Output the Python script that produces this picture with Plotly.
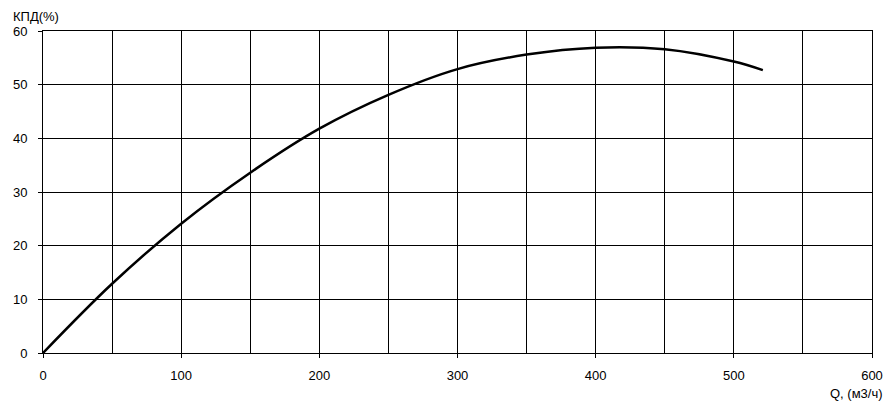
import plotly.graph_objects as go

q = [0, 50, 100, 150, 200, 250, 300, 350, 400, 450, 500, 521]
eff = [0, 12.9, 24.1, 33.6, 41.8, 48.1, 52.9, 55.6, 56.9, 56.6, 54.3, 52.7]

x_ticks = [0, 100, 200, 300, 400, 500, 600]
y_ticks = [0, 10, 20, 30, 40, 50, 60]

fig = go.Figure()
fig.add_trace(go.Scatter(x=q, y=eff, mode="lines",
                         line=dict(color="black", width=2.5, shape="spline", smoothing=1.0),
                         hoverinfo="skip"))

font = dict(family="Liberation Sans, Arial, sans-serif", size=12, color="black")
tfont = dict(family="Liberation Sans, Arial, sans-serif", size=13, color="black")

fig.update_layout(
    width=889, height=406,
    margin=dict(l=43, r=17, t=31, b=53),
    paper_bgcolor="white", plot_bgcolor="white",
    showlegend=False,
    font=font,
    xaxis=dict(range=[0, 600], tickvals=x_ticks, ticks="outside", ticklen=4, tickcolor="black",
               showline=True, linecolor="black", linewidth=1, mirror=True,
               showgrid=True, gridcolor="black", gridwidth=1, zeroline=False,
               minor=dict(dtick=50, showgrid=True, gridcolor="black", gridwidth=1, ticks=""),
               tickfont=tfont, ticklabelstandoff=6, automargin=False),
    yaxis=dict(range=[0, 60], tickvals=y_ticks, ticks="outside", ticklen=4, tickcolor="black",
               showline=True, linecolor="black", linewidth=1, mirror=True,
               showgrid=True, gridcolor="black", gridwidth=1, zeroline=False,
               tickfont=tfont, ticklabelstandoff=8, automargin=False),
    annotations=[
        dict(text="КПД(%)", xref="paper", yref="paper", x=-0.038, y=1.0, yshift=24,
             xanchor="left", yanchor="top", showarrow=False, font=tfont),
        dict(text="Q, (м3/ч)", xref="paper", yref="paper", x=1.0157, y=0, yshift=-31,
             xanchor="right", yanchor="top", showarrow=False, font=tfont),
    ],
)

fig.write_html("out.html", config={"displayModeBar": False, "staticPlot": True},
               post_script="document.body.style.margin='0';document.body.style.overflow='hidden';")
